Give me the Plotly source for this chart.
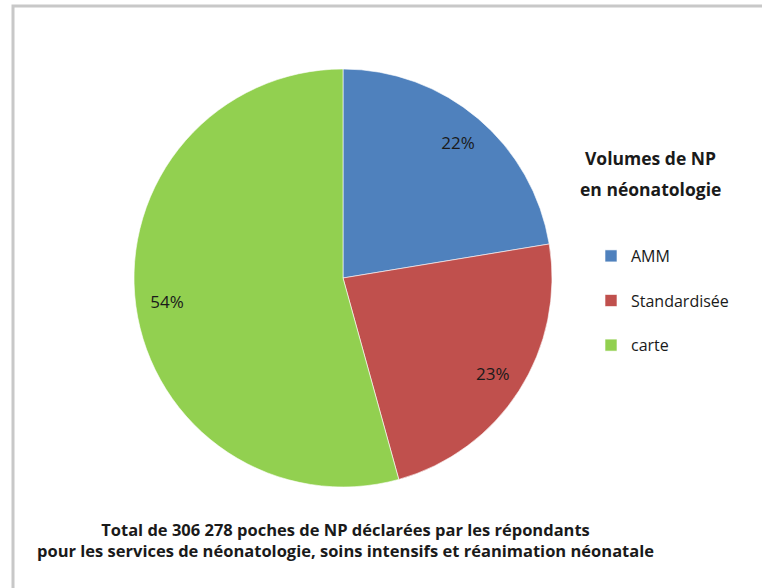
import plotly.graph_objects as go

categories = ["AMM", "Standardisée", "carte"]
values = [22.4, 23.3, 54.3]
colors = ["#4F81BD", "#C0504D", "#92D050"]
legend_title_lines = ["Volumes de NP", "en néonatologie"]
caption = ("Total de 306 278 poches de NP déclarées par les répondants<br>"
           "pour les services de néonatologie, soins intensifs et réanimation néonatale")

W, H = 762, 588
FONT = "Open Sans, sans-serif"
INK = "#1a1a1a"

cx, cy, r = 343, 278, 209
dom = dict(x=[(cx - r) / W, (cx + r) / W],
           y=[(H - cy - r) / H, (H - cy + r) / H])

fig = go.Figure()
# filled pie (with legend)
fig.add_trace(go.Pie(
    labels=[c + "<br> " for c in categories],
    values=values,
    sort=False,
    direction="clockwise",
    rotation=0,
    marker=dict(colors=colors, line=dict(color="white", width=0.6)),
    textinfo="none",
    domain=dom,
    customdata=categories,
    hovertemplate="%{customdata}: %{percent}<extra></extra>",
))
# transparent ring carrying the percentage labels near the rim
fig.add_trace(go.Pie(
    labels=categories,
    values=values,
    sort=False,
    direction="clockwise",
    rotation=0,
    hole=0.7,
    marker=dict(colors=["rgba(0,0,0,0)"] * len(values), line=dict(width=0)),
    texttemplate="%{percent:.0%}",
    textposition="inside",
    insidetextorientation="horizontal",
    textfont=dict(family=FONT, size=17, color=INK),
    domain=dom,
    showlegend=False,
    hoverinfo="skip",
))

annotations = [dict(text="<b>" + caption + "</b>", xref="paper", yref="paper",
                    x=345 / W, y=1 - 540 / H, xanchor="center", yanchor="middle",
                    showarrow=False, align="center",
                    font=dict(family=FONT, size=16.5, color=INK))]
for i, line in enumerate(legend_title_lines):
    annotations.append(dict(text="<b>" + line + "</b>", xref="paper", yref="paper",
                            x=650 / W, y=1 - (158 + 31 * i) / H,
                            xanchor="center", yanchor="middle", showarrow=False,
                            font=dict(family=FONT, size=17.5, color=INK)))

fig.update_layout(
    width=W, height=H,
    margin=dict(l=0, r=0, t=0, b=0),
    paper_bgcolor="white",
    plot_bgcolor="white",
    font=dict(family=FONT, color=INK),
    legend=dict(
        font=dict(family=FONT, size=16, color=INK),
        x=591 / W, y=1 - 239 / H, xanchor="left", yanchor="top",
        itemwidth=30,
        valign="top",
        bgcolor="rgba(0,0,0,0)",
        traceorder="normal",
    ),
    shapes=[dict(type="rect", xref="paper", yref="paper",
                 x0=13 / W, x1=1.05, y0=-0.05, y1=1 - 6 / H,
                 line=dict(color="#C8C8C8", width=3), layer="below")],
    annotations=annotations,
)

fig.write_html("out.html", config={"displayModeBar": False},
               post_script="document.body.style.margin='0';")
